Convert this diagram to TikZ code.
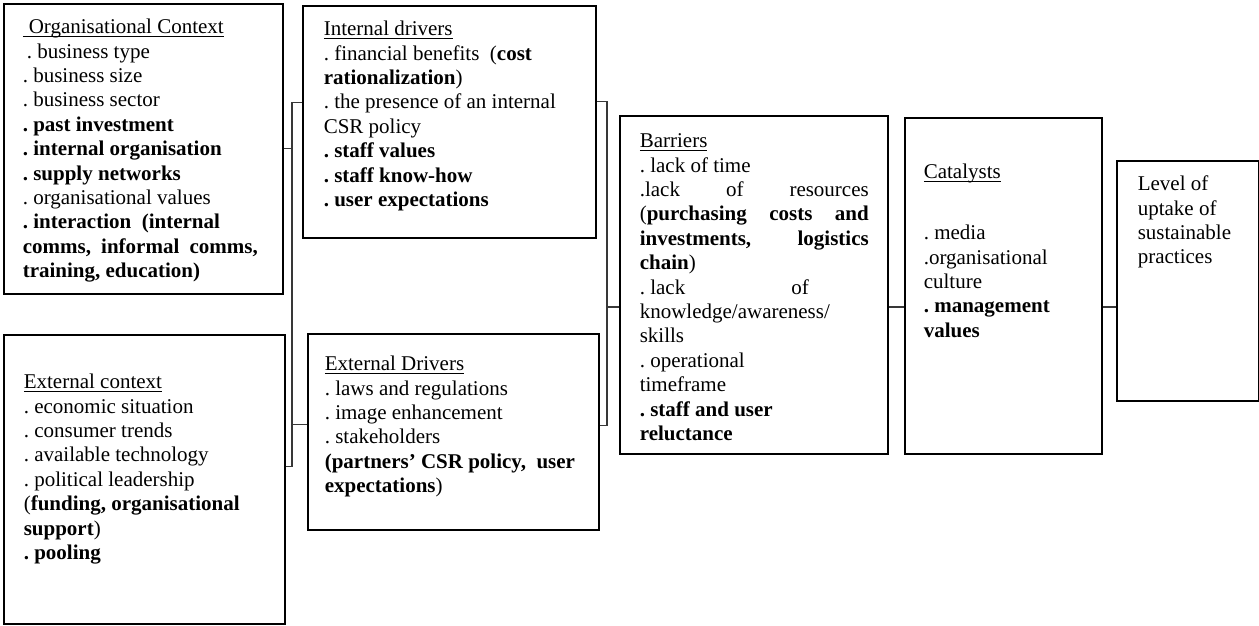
\documentclass[tikz,border=0pt]{standalone}
\usepackage{fontspec}
\setmainfont{Liberation Serif}
\frenchspacing
\newlength{\ulwd}
\newcommand{\uln}[1]{\settowidth{\ulwd}{#1}\rlap{\rule[-3pt]{\ulwd}{1pt}}#1}
\newcommand{\jline}[2][229pt]{\makebox[#1][s]{#2}}
\newcommand{\cardtext}[5]{\parbox[t][#2][t]{#1}{\raggedright\leftskip=#3\relax\vspace*{#4}\strut #5}}
\tikzset{
	card/.style={draw=black, line width=1.6pt, inner sep=0pt, anchor=north west, font=\fontsize{21}{24.4}\selectfont},
	link/.style={draw=black!78, line width=1.1pt}
}

\begin{document}
\begin{tikzpicture}[x=1pt, y=-1pt]
		%%%%% START %%%%%
		\useasboundingbox (0,0) rectangle (1259,625);
		
		\node[card] (org) at (3,3) {\cardtext{279pt}{290pt}{19pt}{12.9pt}{%
			\uln{\hspace{6pt}Organisational Context}\\
			\hspace{4pt}. business type\\
			. business size\\
			. business sector\\
			\textbf{. past investment}\\
			\textbf{. internal organisation}\\
			\textbf{. supply networks}\\
			. organisational values\\
			\textbf{. interaction \ (internal}\\
			\jline[235pt]{\textbf{comms, informal comms,}}\\
			\textbf{training, education)}}};
		
		\node[card] (extctx) at (3,334) {\cardtext{281pt}{289pt}{20pt}{36.9pt}{%
			\uln{External context}\\
			. economic situation\\
			. consumer trends\\
			. available technology\\
			. political leadership\\
			(\textbf{funding, organisational}\\
			\textbf{support})\\
			\textbf{. pooling}}};
		
		\node[card] (intdrv) at (302,5) {\cardtext{293pt}{232pt}{21pt}{12.9pt}{%
			\uln{Internal drivers}\\
			. financial benefits \ (\textbf{cost}\\
			\textbf{rationalization})\\
			. the presence of an internal\\
			CSR policy\\
			\textbf{. staff values}\\
			\textbf{. staff know-how}\\
			\textbf{. user expectations}}};
		
		\node[card] (extdrv) at (307,333) {\cardtext{291pt}{196pt}{17pt}{19.9pt}{%
			\uln{External Drivers}\\
			. laws and regulations\\
			. image enhancement\\
			. stakeholders\\
			\textbf{(partners’ CSR policy, \ user}\\
			\textbf{expectations})}};
		
		\node[card] (barriers) at (619,115) {\cardtext{268pt}{338pt}{20pt}{14.9pt}{%
			\uln{Barriers}\\
			. lack of time\\
			\jline{.lack of resources}\\
			\jline{(\textbf{purchasing costs and}}\\
			\jline{\textbf{investments, logistics}}\\
			\textbf{chain})\\
			\jline[169pt]{. lack\hfill of}\\
			knowledge/awareness/\\
			skills\\
			. operational\\
			timeframe\\
			\textbf{. staff and user}\\
			\textbf{reluctance}}};
		
		\node[card] (catalysts) at (904,117) {\cardtext{197pt}{336pt}{19pt}{43.9pt}{%
			\uln{Catalysts}\\[36.6pt]
			. media\\
			.organisational\\
			culture\\
			\textbf{. management}\\
			\textbf{values}}};
		
		\node[card] (level) at (1116,160) {\cardtext{142pt}{240pt}{21pt}{12.9pt}{%
			Level of\\
			uptake of\\
			sustainable\\
			practices}};
		
		\coordinate (busA) at (292,0);
		\coordinate (busB) at (607,0);
		\coordinate (row) at (0,307);
		\coordinate (ecOut) at ([yshift=12.5pt]extctx.east);
		\coordinate (idIn) at ([yshift=19pt]intdrv.west);
		\coordinate (idOut) at ([yshift=20pt]intdrv.east);
		\coordinate (edIn) at ([yshift=7pt]extdrv.west);
		\coordinate (edOut) at ([yshift=6pt]extdrv.east);
		
		\draw[link] (org.east) -- (org.east -| busA);
		\draw[link] (ecOut) -- (ecOut -| busA);
		\draw[link] (idIn) -- (idIn -| busA) -- (busA |- ecOut);
		\draw[link] (edIn) -- (edIn -| busA);
		
		\draw[link] (idOut) -- (idOut -| busB) -- (busB |- edOut) -- (edOut);
		\draw[link] (busB |- row) -- (barriers.west |- row);
		
		\draw[link] (barriers.east |- row) -- (catalysts.west |- row);
		\draw[link] (catalysts.east |- row) -- (level.west |- row);
		
		%%%%% END %%%%%
\end{tikzpicture}
\end{document}
